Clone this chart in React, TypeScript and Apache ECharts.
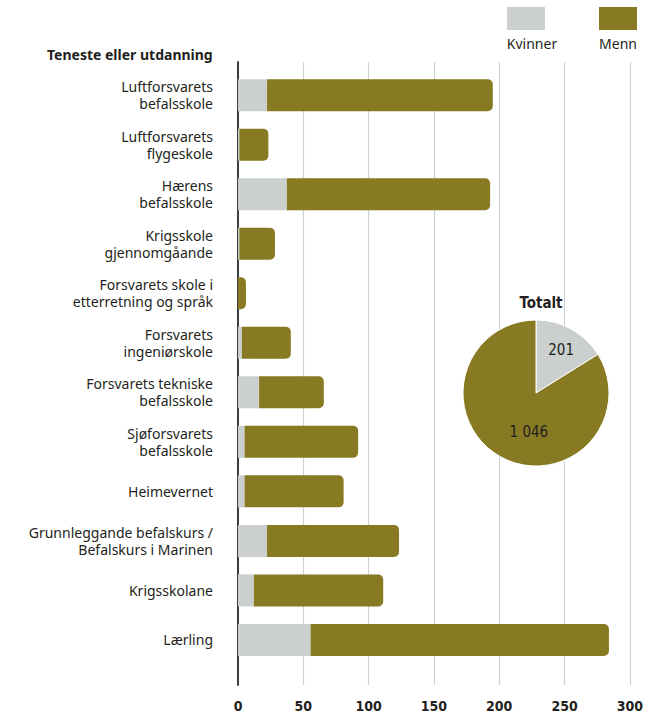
import React, { useEffect, useRef } from "react";
import * as echarts from "echarts";

const categories = [
  "Luftforsvarets\nbefalsskole",
  "Luftforsvarets\nflygeskole",
  "Hærens\nbefalsskole",
  "Krigsskole\ngjennomgåande",
  "Forsvarets skole i\netterretning og språk",
  "Forsvarets\ningeniørskole",
  "Forsvarets tekniske\nbefalsskole",
  "Sjøforsvarets\nbefalsskole",
  "Heimevernet",
  "Grunnleggande befalskurs /\nBefalskurs i Marinen",
  "Krigsskolane",
  "Lærling",
];
const kvinner = [22, 1, 37, 1, 0, 3, 16, 5, 5, 22, 12, 55];
const menn = [171, 22, 154, 27, 6, 37, 49, 86, 75, 100, 98, 226];
const totalNames = ["Kvinner", "Menn"];
const totalValues = [201, 1046];
const xTicks = [0, 50, 100, 150, 200, 250, 300];

const GRAY = "#cbcfcd";
const OLIVE = "#877a22";
const TEXT = "#231f20";
const NARROW = "'DejaVu Sans Condensed', 'Liberation Sans Narrow', sans-serif";
const SANS = "'Noto Sans', 'Open Sans', sans-serif";

export default function App() {
  const ref = useRef<HTMLDivElement>(null);
  useEffect(() => {
    if (!ref.current) return;
    const chart = echarts.init(ref.current, undefined, { renderer: "svg" });
    chart.setOption({
      animation: false,
      backgroundColor: "#ffffff",
      textStyle: { fontFamily: SANS, color: TEXT },
      title: [
        {
          text: "Teneste eller utdanning",
          left: 42,
          top: 42,
          textStyle: { fontSize: 14, fontWeight: "bold", color: TEXT, fontFamily: SANS },
        },
        {
          text: "Totalt",
          left: 536,
          top: 290,
          textAlign: "center",
          textStyle: { fontSize: 15, fontWeight: "bold", color: TEXT, fontFamily: NARROW },
        },
      ],
      grid: [
        { left: 238, right: 12, top: 62, bottom: 29 },
        { left: 238, right: 12, top: 70.4, bottom: 49.3 },
      ],
      xAxis: [
        {
          gridIndex: 0,
          type: "value",
          min: 0,
          max: 300,
          interval: 50,
          axisLine: { show: false },
          axisTick: { show: false },
          splitLine: { show: true, lineStyle: { color: "#cfd1d1", width: 1.2 } },
          axisLabel: {
            margin: 14,
            fontSize: 14,
            fontWeight: "bold",
            color: TEXT,
            fontFamily: NARROW,
            formatter: (v: number) => (xTicks.includes(v) ? String(v) : ""),
          },
        },
        {
          gridIndex: 1,
          type: "value",
          min: 0,
          max: 300,
          show: false,
        },
      ],
      yAxis: [
        {
          gridIndex: 0,
          type: "value",
          min: 0,
          max: 1,
          offset: 2,
          axisLine: { show: true, lineStyle: { color: "#3c3f3f", width: 2 } },
          axisTick: { show: false },
          axisLabel: { show: false },
          splitLine: { show: false },
        },
        {
          gridIndex: 1,
          type: "category",
          inverse: true,
          data: categories,
          axisLine: { show: false },
          axisTick: { show: false },
          axisLabel: {
            margin: 25,
            fontSize: 14,
            lineHeight: 17,
            color: TEXT,
            fontFamily: SANS,
            align: "right",
          },
        },
      ],
      series: [
        {
          name: "Kvinner",
          type: "bar",
          stack: "t",
          xAxisIndex: 1,
          yAxisIndex: 1,
          barWidth: 32,
          data: kvinner,
          itemStyle: { color: GRAY },
        },
        {
          name: "Menn",
          type: "bar",
          stack: "t",
          xAxisIndex: 1,
          yAxisIndex: 1,
          barWidth: 32,
          data: menn,
          itemStyle: { color: OLIVE, borderRadius: [0, 5, 5, 0] },
        },
        {
          name: "Totalt",
          type: "pie",
          center: [536, 393],
          radius: [0, 73],
          startAngle: 90,
          clockwise: true,
          data: totalNames.map((n, i) => ({
            name: n,
            value: totalValues[i],
            itemStyle: { color: i === 0 ? GRAY : OLIVE },
          })),
          itemStyle: { borderColor: "#ffffff", borderWidth: 1 },
          label: {
            show: true,
            position: "inside",
            fontSize: 15,
            color: TEXT,
            fontFamily: NARROW,
            formatter: (p: any) => String(p.value).replace(/\B(?=(\d{3})+(?!\d))/g, " "),
          },
          labelLayout: (p: any) => (p.dataIndex === 0 ? { dx: 6, dy: -8 } : { dx: 12, dy: 4 }),
          emphasis: { disabled: true },
        },
      ],
      graphic: [
        { type: "rect", left: 507, top: 7, shape: { width: 38, height: 23 }, style: { fill: GRAY } },
        { type: "rect", left: 599, top: 7, shape: { width: 38, height: 23 }, style: { fill: OLIVE } },
        {
          type: "text",
          x: 532,
          y: 43,
          style: { text: "Kvinner", fill: TEXT, font: `14px ${SANS}`, align: "center", verticalAlign: "middle" },
        },
        {
          type: "text",
          x: 618,
          y: 43,
          style: { text: "Menn", fill: TEXT, font: `14px ${SANS}`, align: "center", verticalAlign: "middle" },
        },
      ],
    });
    return () => chart.dispose();
  }, []);
  return <div ref={ref} style={{ width: 646, height: 714, position: "absolute", left: 0, top: 0 }} />;
}
